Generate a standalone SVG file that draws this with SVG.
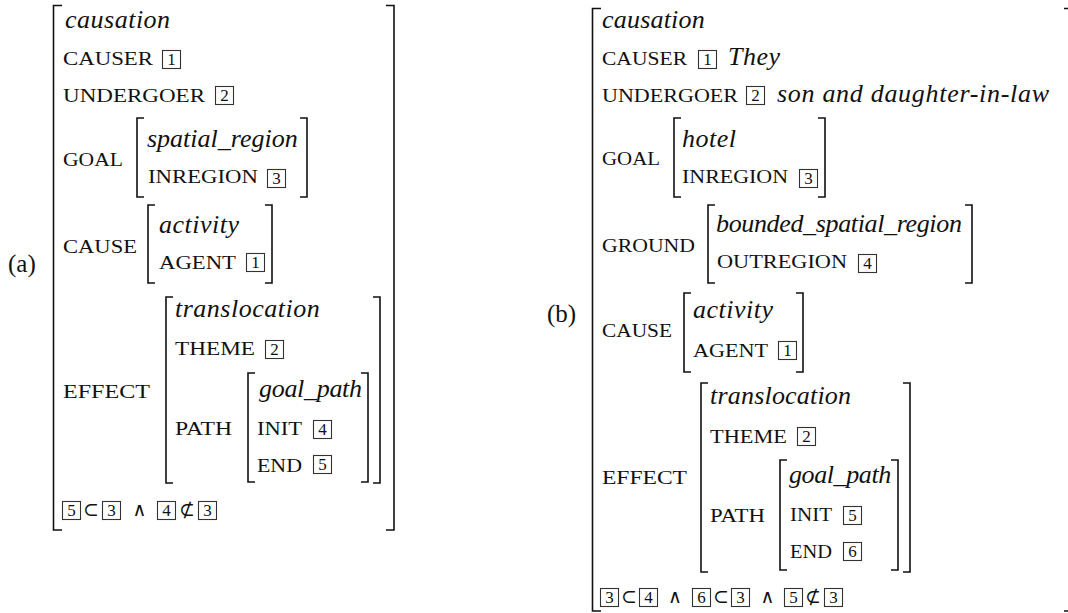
<svg xmlns="http://www.w3.org/2000/svg" xmlns:xlink="http://www.w3.org/1999/xlink" width="1068" height="613" viewBox="0 0 1068 613">
  <style>
    .br { fill: none; stroke: #111; stroke-width: 1.6; }
    .bx { fill: none; stroke: #333; stroke-width: 1.1; }
    .sc { font-family: "Liberation Serif", serif; font-size: 19.5px; fill: #111; }
    .it { font-family: "Liberation Serif", serif; font-style: italic; font-size: 26px; letter-spacing: 0.5px; fill: #111; }
    .rm { font-family: "Liberation Serif", serif; font-size: 25px; fill: #111; }
    .num { font-family: "Liberation Serif", serif; font-size: 17px; fill: #111; text-anchor: middle; }
    .op { font-family: "DejaVu Serif", "DejaVu Sans", serif; font-size: 19px; fill: #111; text-anchor: middle; }
  </style>
  <defs>
    <rect id="tag" width="18" height="18" class="bx"/>
  </defs>
  <rect width="1068" height="613" fill="#fff"/>

  <!-- (a) generic causation frame -->
  <g id="frame-a">
    <text class="rm" x="8" y="272">(a)</text>
    <path class="br" d="M62,5.5 H53.5 V530 H62"/>
    <path class="br" d="M386,5.5 H394 V530 H386"/>

    <text class="it" x="65" y="28">causation</text>

    <g id="a-causer">
      <text class="sc" x="63" y="65" textLength="90" lengthAdjust="spacingAndGlyphs">CAUSER</text>
      <use xlink:href="#tag" x="162.5" y="50.5"/><text class="num" x="171.5" y="65">1</text>
    </g>
    <g id="a-undergoer">
      <text class="sc" x="63" y="102" textLength="142" lengthAdjust="spacingAndGlyphs">UNDERGOER</text>
      <use xlink:href="#tag" x="215.5" y="86.5"/><text class="num" x="224.5" y="101">2</text>
    </g>
    <g id="a-goal">
      <text class="sc" x="63" y="166" textLength="60" lengthAdjust="spacingAndGlyphs">GOAL</text>
      <path class="br" d="M144,118 H137 V197 H144"/>
      <path class="br" d="M300,118 H307 V197 H300"/>
      <text class="it" x="147" y="147" style="letter-spacing:0">spatial_region</text>
      <text class="sc" x="148" y="183" textLength="110" lengthAdjust="spacingAndGlyphs">INREGION</text>
      <use xlink:href="#tag" x="267.5" y="169.5"/><text class="num" x="276.5" y="184">3</text>
    </g>
    <g id="a-cause">
      <text class="sc" x="63" y="253" textLength="74" lengthAdjust="spacingAndGlyphs">CAUSE</text>
      <path class="br" d="M155,205 H148 V283 H155"/>
      <path class="br" d="M265,205 H272 V283 H265"/>
      <text class="it" x="159" y="233">activity</text>
      <text class="sc" x="159" y="269" textLength="77" lengthAdjust="spacingAndGlyphs">AGENT</text>
      <use xlink:href="#tag" x="246.5" y="253.5"/><text class="num" x="255.5" y="268">1</text>
    </g>
    <g id="a-effect">
      <text class="sc" x="63" y="398" textLength="87" lengthAdjust="spacingAndGlyphs">EFFECT</text>
      <path class="br" d="M173,297 H166 V483 H173"/>
      <path class="br" d="M373,297 H380 V483 H373"/>
      <text class="it" x="175" y="317">translocation</text>
      <text class="sc" x="175" y="355" textLength="80" lengthAdjust="spacingAndGlyphs">THEME</text>
      <use xlink:href="#tag" x="265.5" y="340.5"/><text class="num" x="274.5" y="355">2</text>
      <g id="a-path">
        <text class="sc" x="175" y="435" textLength="57" lengthAdjust="spacingAndGlyphs">PATH</text>
        <path class="br" d="M255,373 H248 V482 H255"/>
        <path class="br" d="M361,373 H368 V482 H361"/>
        <text class="it" x="259" y="397" style="letter-spacing:-0.3px">goal_path</text>
        <text class="sc" x="257" y="435" textLength="45" lengthAdjust="spacingAndGlyphs">INIT</text>
        <use xlink:href="#tag" x="313.5" y="420.5"/><text class="num" x="322.5" y="435">4</text>
        <text class="sc" x="257" y="472" textLength="45" lengthAdjust="spacingAndGlyphs">END</text>
        <use xlink:href="#tag" x="313.5" y="455.5"/><text class="num" x="322.5" y="470">5</text>
      </g>
    </g>
    <g id="a-constraint">
      <use xlink:href="#tag" x="62.5" y="501.5"/><text class="num" x="71.5" y="516">5</text>
      <text class="op" x="91" y="516">⊂</text>
      <use xlink:href="#tag" x="102.5" y="501.5"/><text class="num" x="111.5" y="516">3</text>
      <text class="op" x="139.5" y="516">∧</text>
      <use xlink:href="#tag" x="157.5" y="501.5"/><text class="num" x="166.5" y="516">4</text>
      <text class="op" x="187" y="516">⊄</text>
      <use xlink:href="#tag" x="198.5" y="501.5"/><text class="num" x="207.5" y="516">3</text>
    </g>
  </g>

  <!-- (b) instantiated frame -->
  <g id="frame-b">
    <text class="rm" x="547" y="322">(b)</text>
    <path class="br" d="M601,8.5 H592.5 V611 H601"/>
    <path class="br" d="M1064,8.5 H1069.5 V611 H1064"/>

    <text class="it" x="602" y="28" style="letter-spacing:0.2px">causation</text>

    <g id="b-causer">
      <text class="sc" x="602" y="65" textLength="85" lengthAdjust="spacingAndGlyphs">CAUSER</text>
      <use xlink:href="#tag" x="698.5" y="50.5"/><text class="num" x="707.5" y="65">1</text>
      <text class="it" x="728" y="65">They</text>
    </g>
    <g id="b-undergoer">
      <text class="sc" x="602" y="102" textLength="136" lengthAdjust="spacingAndGlyphs">UNDERGOER</text>
      <use xlink:href="#tag" x="746.5" y="86.5"/><text class="num" x="755.5" y="101">2</text>
      <text class="it" x="777" y="102" style="letter-spacing:0.7px">son and daughter-in-law</text>
    </g>
    <g id="b-goal">
      <text class="sc" x="602" y="165" textLength="58" lengthAdjust="spacingAndGlyphs">GOAL</text>
      <path class="br" d="M681,118 H674 V197 H681"/>
      <path class="br" d="M818,118 H825 V197 H818"/>
      <text class="it" x="682" y="147">hotel</text>
      <text class="sc" x="682" y="183" textLength="106" lengthAdjust="spacingAndGlyphs">INREGION</text>
      <use xlink:href="#tag" x="799.5" y="169.5"/><text class="num" x="808.5" y="184">3</text>
    </g>
    <g id="b-ground">
      <text class="sc" x="602" y="252" textLength="93" lengthAdjust="spacingAndGlyphs">GROUND</text>
      <path class="br" d="M715,205 H708 V283 H715"/>
      <path class="br" d="M965,205 H972 V283 H965"/>
      <text class="it" x="716" y="232" style="letter-spacing:-0.35px">bounded_spatial_region</text>
      <text class="sc" x="717" y="268" textLength="130" lengthAdjust="spacingAndGlyphs">OUTREGION</text>
      <use xlink:href="#tag" x="858.5" y="254.5"/><text class="num" x="867.5" y="269">4</text>
    </g>
    <g id="b-cause">
      <text class="sc" x="602" y="337" textLength="70" lengthAdjust="spacingAndGlyphs">CAUSE</text>
      <path class="br" d="M691,293 H684 V372 H691"/>
      <path class="br" d="M796,293 H803 V372 H796"/>
      <text class="it" x="693" y="318">activity</text>
      <text class="sc" x="693" y="357" textLength="75" lengthAdjust="spacingAndGlyphs">AGENT</text>
      <use xlink:href="#tag" x="778.5" y="341.5"/><text class="num" x="787.5" y="356">1</text>
    </g>
    <g id="b-effect">
      <text class="sc" x="602" y="484" textLength="85" lengthAdjust="spacingAndGlyphs">EFFECT</text>
      <path class="br" d="M708,383 H701 V572 H708"/>
      <path class="br" d="M903,383 H910 V572 H903"/>
      <text class="it" x="710" y="404" style="letter-spacing:0.2px">translocation</text>
      <text class="sc" x="710" y="443" textLength="77" lengthAdjust="spacingAndGlyphs">THEME</text>
      <use xlink:href="#tag" x="797.5" y="427.5"/><text class="num" x="806.5" y="442">2</text>
      <g id="b-path">
        <text class="sc" x="710" y="522" textLength="55" lengthAdjust="spacingAndGlyphs">PATH</text>
        <path class="br" d="M787,460 H780 V570 H787"/>
        <path class="br" d="M891,460 H898 V570 H891"/>
        <text class="it" x="789" y="483" style="letter-spacing:-0.4px">goal_path</text>
        <text class="sc" x="790" y="521" textLength="42" lengthAdjust="spacingAndGlyphs">INIT</text>
        <use xlink:href="#tag" x="843.5" y="506.5"/><text class="num" x="852.5" y="521">5</text>
        <text class="sc" x="790" y="558" textLength="42" lengthAdjust="spacingAndGlyphs">END</text>
        <use xlink:href="#tag" x="843.5" y="542.5"/><text class="num" x="852.5" y="557">6</text>
      </g>
    </g>
    <g id="b-constraint">
      <use xlink:href="#tag" x="600.5" y="588.5"/><text class="num" x="609.5" y="603">3</text>
      <text class="op" x="629" y="603">⊂</text>
      <use xlink:href="#tag" x="639.5" y="588.5"/><text class="num" x="648.5" y="603">4</text>
      <text class="op" x="675" y="603">∧</text>
      <use xlink:href="#tag" x="692.5" y="588.5"/><text class="num" x="701.5" y="603">6</text>
      <text class="op" x="721" y="603">⊂</text>
      <use xlink:href="#tag" x="731.5" y="588.5"/><text class="num" x="740.5" y="603">3</text>
      <text class="op" x="767.5" y="603">∧</text>
      <use xlink:href="#tag" x="784.5" y="588.5"/><text class="num" x="793.5" y="603">5</text>
      <text class="op" x="813" y="603">⊄</text>
      <use xlink:href="#tag" x="824.5" y="588.5"/><text class="num" x="833.5" y="603">3</text>
    </g>
  </g>
</svg>
